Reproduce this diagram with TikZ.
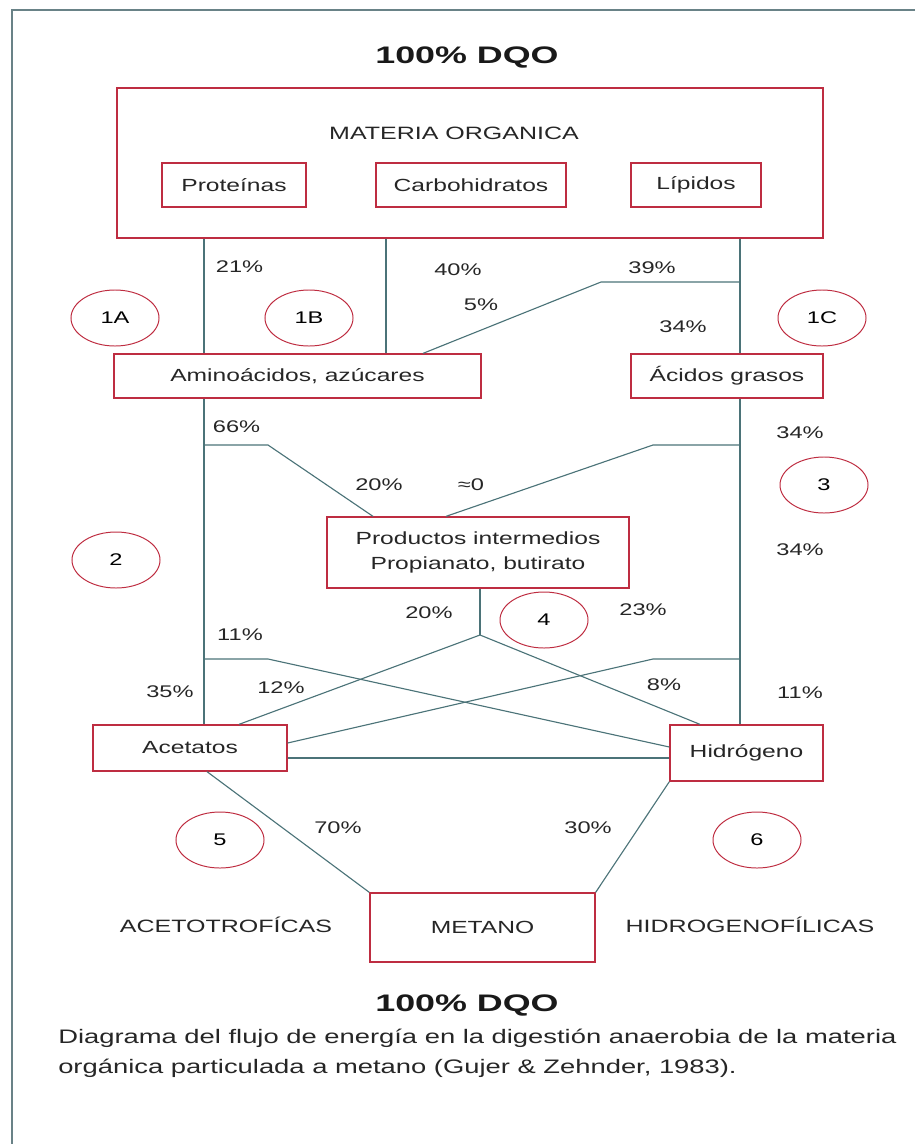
\documentclass[tikz,border=0pt]{standalone}
\usepackage{fontspec}
\setmainfont{Liberation Sans}[FakeStretch=1.4]
\newfontfamily\widefont{Liberation Sans}[FakeStretch=1.5]
\usepackage{tikz}
\usetikzlibrary{positioning,calc,shapes.geometric}
\definecolor{boxred}{RGB}{190,45,65}
\definecolor{flowline}{RGB}{75,115,120}
\definecolor{framegray}{RGB}{105,130,135}

\begin{document}
\begin{tikzpicture}[x=0.025cm, y=-0.025cm,
  box/.style={draw=boxred, line width=0.9pt, inner sep=0pt, align=center,
              font=\fontsize{12.5}{17.5}\selectfont, text=black!85},
  fase/.style={draw=boxred, ellipse, line width=0.7pt, minimum width=2.2cm,
               minimum height=1.4cm, inner sep=0pt, font=\fontsize{12}{14}\selectfont},
  pct/.style={font=\fontsize{12}{14}\selectfont, text=black!85},
  caps/.style={font=\fontsize{12.7}{14}\selectfont, text=black!85},
  ttl/.style={font=\widefont\fontsize{17}{20}\selectfont\bfseries, text=black!90},
  flow/.style={draw=flowline, line width=0.8pt}
]
  \useasboundingbox (0,0) rectangle (915,1144);
  % frame
  \draw[framegray, line width=1.4pt] (915,10) -- (12,10) -- (12,1144);

  % Materia organica
  \node[ttl] (dqo1) at (467,58) {100\% DQO};
  \node[box, minimum width=17.65cm, minimum height=3.75cm] (mo) at (470,163) {};
  \node[caps] (molbl) at (454,133) {MATERIA ORGANICA};
  \node[box, minimum width=3.6cm, minimum height=1.1cm] (prot) at (234,185) {Proteínas};
  \node[box, minimum width=4.75cm, minimum height=1.1cm] (carb) at (471,185) {Carbohidratos};
  \node[box, minimum width=3.25cm, minimum height=1.1cm] (lip) at (696,185) {Lípidos};

  % Hidrolisis
  \node[box, minimum width=9.175cm, minimum height=1.1cm] (amino) at (297.5,376) {Aminoácidos, azúcares};
  \node[box, minimum width=4.8cm, minimum height=1.1cm] (acid) at (727,376) {Ácidos grasos};
  \node[fase] (f1a) at (115,318) {1A};
  \node[fase] (f1b) at (309,318) {1B};
  \node[fase] (f1c) at (822,318) {1C};

  \coordinate (xl) at (204,0);
  \coordinate (xc) at (386,0);
  \coordinate (xr) at (740,0);
  \coordinate (a39) at (423,0);
  \coordinate (k39) at (601,282);
  \draw[flow] (mo.south -| xl) -- (amino.north -| xl);
  \draw[flow] (mo.south -| xc) -- (amino.north -| xc);
  \draw[flow] (mo.south -| xr) -- (acid.north -| xr);
  \draw[flow] (amino.north -| a39) -- (k39) -- (k39 -| xr);
  \node[pct, anchor=west] (p21) at (211,267) {21\%};
  \node[pct] (p40) at (458,270) {40\%};
  \node[pct] (p39) at (652,268) {39\%};
  \node[pct] (p5) at (481,305) {5\%};
  \node[pct] (p34a) at (683,327) {34\%};

  % Productos intermedios
  \node[box, minimum width=7.55cm, minimum height=1.775cm] (prod) at (478,552.5)
    {Productos intermedios\\Propianato, butirato};
  \node[fase] (f2) at (116,560) {2};
  \node[fase] (f3) at (824,485) {3};
  \coordinate (p1) at (373,0);
  \coordinate (p2) at (446,0);
  \coordinate (k66) at (268,445);
  \coordinate (k0) at (653,445);
  \draw[flow] (k66 -| xl) -- (k66) -- (prod.north -| p1);
  \draw[flow] (k0 -| xr) -- (k0) -- (prod.north -| p2);
  \node[pct, anchor=west] (p66) at (208,427) {66\%};
  \node[pct] (p20a) at (379,485) {20\%};
  \node[pct] (p0) at (471,485) {≈0};
  \node[pct] (p34b) at (800,433) {34\%};
  \node[pct] (p34c) at (800,550) {34\%};

  % Acetogenesis
  \node[box, minimum width=4.85cm, minimum height=1.15cm] (acet) at (190,748) {Acetatos};
  \node[box, minimum width=3.825cm, minimum height=1.4cm] (hidr) at (746.5,753) {Hidrógeno};
  \node[fase] (f4) at (544,620) {4};
  \coordinate (v4) at (480,635);
  \coordinate (a1) at (239,0);
  \coordinate (h1) at (700,0);
  \coordinate (k11) at (268,659);
  \coordinate (k23) at (653,659);
  \coordinate (yb) at (0,758);
  \draw[flow] (amino.south -| xl) -- (acet.north -| xl);
  \draw[flow] (acid.south -| xr) -- (hidr.north -| xr);
  \draw[flow] (prod.south -| v4) -- (v4);
  \draw[flow] (v4) -- (acet.north -| a1);
  \draw[flow] (v4) -- (hidr.north -| h1);
  \draw[flow] (k11 -| xl) -- (k11) -- ($(hidr.west)+(0,-6)$);
  \draw[flow] (k23 -| xr) -- (k23) -- ($(acet.east)+(0,-5)$);
  \draw[flow] (acet.east |- yb) -- (hidr.west |- yb);
  \node[pct] (p20b) at (429,613) {20\%};
  \node[pct] (p23) at (643,610) {23\%};
  \node[pct] (p11a) at (240,635) {11\%};
  \node[pct] (p35) at (170,692) {35\%};
  \node[pct] (p12) at (281,688) {12\%};
  \node[pct] (p8) at (664,685) {8\%};
  \node[pct] (p11b) at (800,693) {11\%};

  % Metanogenesis
  \node[box, minimum width=5.625cm, minimum height=1.725cm] (met) at (482.5,927.5) {METANO};
  \node[fase] (f5) at (220,840) {5};
  \node[fase] (f6) at (757,840) {6};
  \coordinate (a2) at (207,0);
  \draw[flow] (acet.south -| a2) -- (met.north west);
  \draw[flow] (hidr.south west) -- (met.north east);
  \node[pct] (p70) at (338,828) {70\%};
  \node[pct] (p30) at (588,828) {30\%};
  \node[caps] (aceto) at (226,925) {ACETOTROFÍCAS};
  \node[caps] (hidro) at (750,925) {HIDROGENOFÍLICAS};

  % Caption
  \node[ttl] (dqo2) at (467,1005) {100\% DQO};
  \node[anchor=west, inner sep=0pt, font=\fontsize{13.9}{17}\selectfont, text=black!85] (cap1) at (58,1038)
    {Diagrama del flujo de energía en la digestión anaerobia de la materia};
  \node[anchor=west, inner sep=0pt, font=\fontsize{13.9}{17}\selectfont, text=black!85] (cap2) at (58,1068)
    {orgánica particulada a metano (Gujer \& Zehnder, 1983).};
\end{tikzpicture}
\end{document}
